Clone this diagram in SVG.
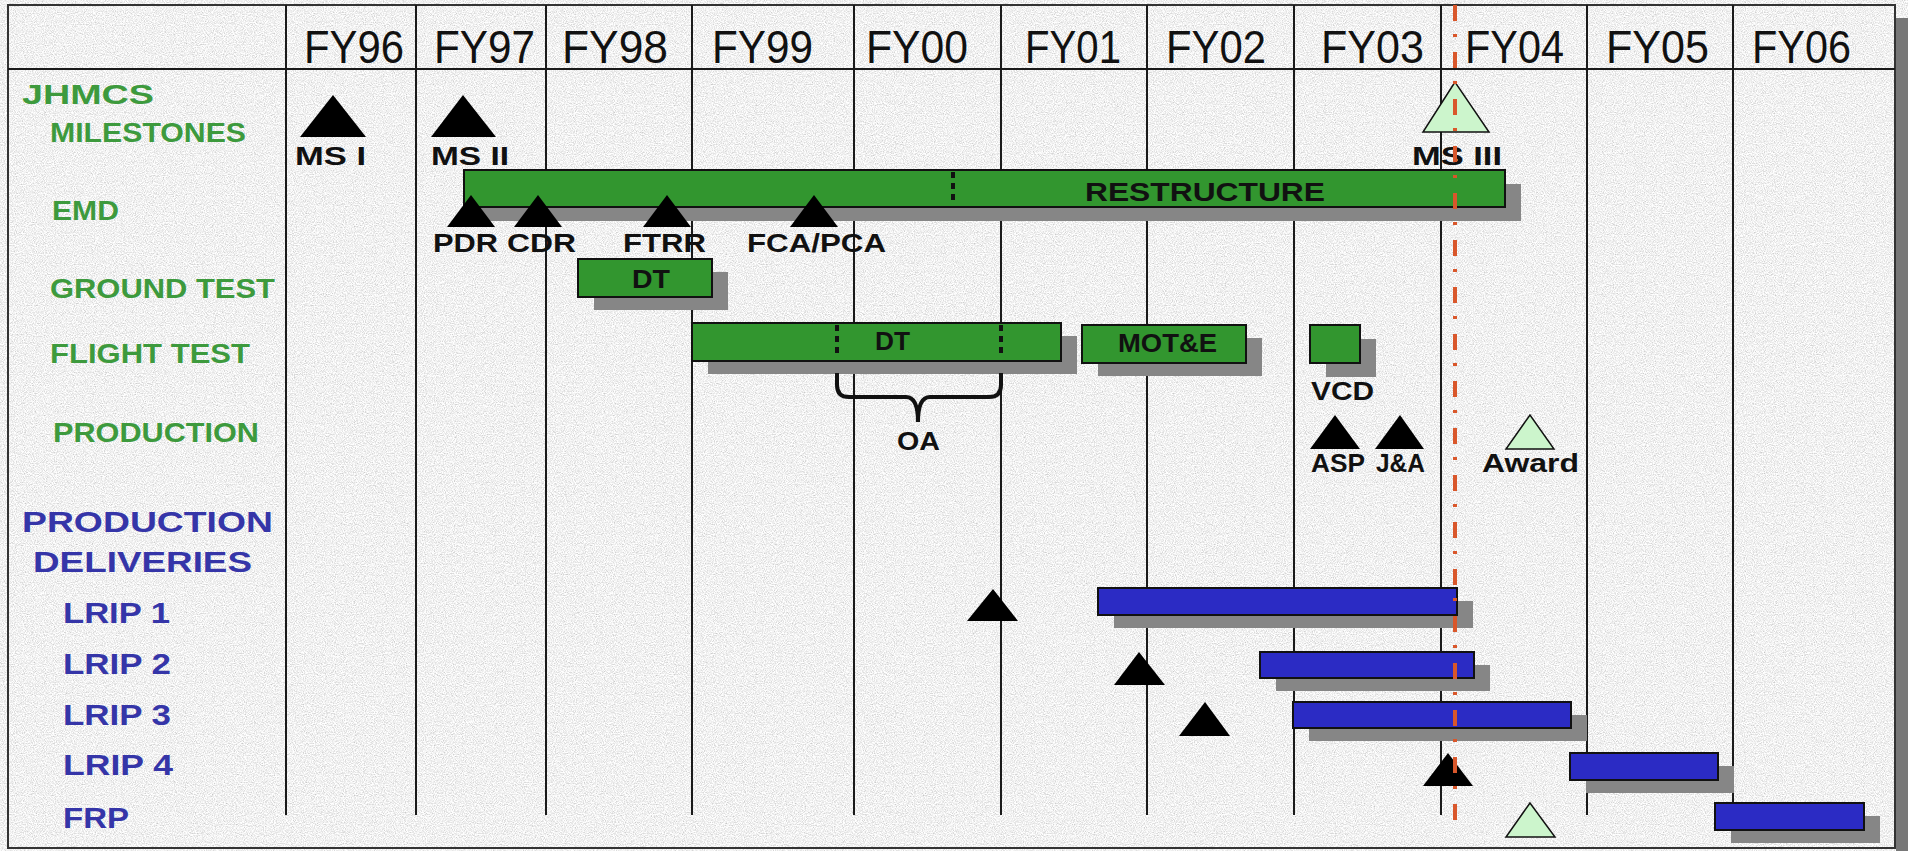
<svg xmlns="http://www.w3.org/2000/svg" width="1908" height="851" viewBox="0 0 1908 851">
<defs>
<filter id="noise" x="0" y="0" width="100%" height="100%">
<feTurbulence type="fractalNoise" baseFrequency="0.9" numOctaves="2" seed="7" result="t"/>
<feColorMatrix in="t" type="matrix" values="0.8 0 0 0 0.48  0.8 0 0 0 0.48  0.8 0 0 0 0.48  0 0 0 0 1"/>
</filter>
<style>
.hdr{font-family:"Liberation Sans",Arial,sans-serif;font-size:47px;fill:#111;}
.gl{font-family:"Liberation Sans",Arial,sans-serif;font-weight:bold;font-size:28px;fill:#3d9a3d;}
.bl{font-family:"Liberation Sans",Arial,sans-serif;font-weight:bold;font-size:30px;fill:#3535a8;}
.lab{font-family:"Liberation Sans",Arial,sans-serif;font-weight:bold;font-size:25px;fill:#111;}
.grid{stroke:#1a1a1a;stroke-width:2;fill:none;}
.gbar{fill:#32962f;stroke:#111;stroke-width:2;}
.bbar{fill:#2b2bc4;stroke:#111;stroke-width:2;}
.shd{fill:#868686;}
.tri{fill:#000;}
.ltri{fill:#ccf5cc;stroke:#111;stroke-width:1.5;}
.dots{stroke:#111;stroke-width:4;stroke-dasharray:6 5;fill:none;}
</style>
</defs>
<rect x="0" y="0" width="1908" height="851" fill="#e0e0e0"/>
<rect x="0" y="0" width="1908" height="851" filter="url(#noise)"/>
<rect x="1896" y="18" width="12" height="833" fill="#777"/>
<rect x="8" y="5" width="1887" height="843" fill="none" stroke="#333" stroke-width="2"/>

<g id="grid" class="grid">
<line x1="8" y1="69" x2="1895" y2="69"/>
<line x1="286" y1="5" x2="286" y2="815"/>
<line x1="416" y1="5" x2="416" y2="815"/>
<line x1="546" y1="5" x2="546" y2="815"/>
<line x1="692" y1="5" x2="692" y2="815"/>
<line x1="854" y1="5" x2="854" y2="815"/>
<line x1="1001" y1="5" x2="1001" y2="815"/>
<line x1="1147" y1="5" x2="1147" y2="815"/>
<line x1="1294" y1="5" x2="1294" y2="815"/>
<line x1="1441" y1="5" x2="1441" y2="815"/>
<line x1="1587" y1="5" x2="1587" y2="815"/>
<line x1="1733" y1="5" x2="1733" y2="815"/>
</g>

<g id="header">
<text class="hdr" x="304" y="63" textLength="100" lengthAdjust="spacingAndGlyphs">FY96</text>
<text class="hdr" x="434" y="63" textLength="101" lengthAdjust="spacingAndGlyphs">FY97</text>
<text class="hdr" x="562" y="63" textLength="106" lengthAdjust="spacingAndGlyphs">FY98</text>
<text class="hdr" x="712" y="63" textLength="101" lengthAdjust="spacingAndGlyphs">FY99</text>
<text class="hdr" x="866" y="63" textLength="102" lengthAdjust="spacingAndGlyphs">FY00</text>
<text class="hdr" x="1025" y="63" textLength="96" lengthAdjust="spacingAndGlyphs">FY01</text>
<text class="hdr" x="1166" y="63" textLength="100" lengthAdjust="spacingAndGlyphs">FY02</text>
<text class="hdr" x="1321" y="63" textLength="103" lengthAdjust="spacingAndGlyphs">FY03</text>
<text class="hdr" x="1465" y="63" textLength="99" lengthAdjust="spacingAndGlyphs">FY04</text>
<text class="hdr" x="1606" y="63" textLength="103" lengthAdjust="spacingAndGlyphs">FY05</text>
<text class="hdr" x="1752" y="63" textLength="99" lengthAdjust="spacingAndGlyphs">FY06</text>
</g>

<g id="row-labels">
<text class="gl" x="22" y="104" font-size="30" textLength="132" lengthAdjust="spacingAndGlyphs">JHMCS</text>
<text class="gl" x="50" y="142" textLength="196" lengthAdjust="spacingAndGlyphs">MILESTONES</text>
<text class="gl" x="52" y="220" textLength="67" lengthAdjust="spacingAndGlyphs">EMD</text>
<text class="gl" x="50" y="298" textLength="225" lengthAdjust="spacingAndGlyphs">GROUND TEST</text>
<text class="gl" x="50" y="363" textLength="200" lengthAdjust="spacingAndGlyphs">FLIGHT TEST</text>
<text class="gl" x="53" y="442" textLength="206" lengthAdjust="spacingAndGlyphs">PRODUCTION</text>
<text class="bl" x="22" y="532" font-size="37" textLength="251" lengthAdjust="spacingAndGlyphs">PRODUCTION</text>
<text class="bl" x="33" y="572" font-size="34" textLength="219" lengthAdjust="spacingAndGlyphs">DELIVERIES</text>
<text class="bl" x="63" y="623" textLength="107" lengthAdjust="spacingAndGlyphs">LRIP 1</text>
<text class="bl" x="63" y="674" textLength="108" lengthAdjust="spacingAndGlyphs">LRIP 2</text>
<text class="bl" x="63" y="725" textLength="108" lengthAdjust="spacingAndGlyphs">LRIP 3</text>
<text class="bl" x="63" y="775" textLength="110" lengthAdjust="spacingAndGlyphs">LRIP 4</text>
<text class="bl" x="63" y="828" textLength="66" lengthAdjust="spacingAndGlyphs">FRP</text>
</g>

<g id="milestones">
<g id="ms1"><polygon class="tri" points="333,95 300,137 366,137"/><text class="lab" x="295" y="165" textLength="71" lengthAdjust="spacingAndGlyphs">MS I</text></g>
<g id="ms2"><polygon class="tri" points="463,95 431,137 496,137"/><text class="lab" x="431" y="165" textLength="78" lengthAdjust="spacingAndGlyphs">MS II</text></g>
<g id="ms3"><polygon class="ltri" points="1455,82 1423,132 1489,132"/><text class="lab" x="1412" y="165" textLength="90" lengthAdjust="spacingAndGlyphs">MS III</text></g>
</g>

<g id="emd">
<rect class="shd" x="480" y="184" width="1041" height="37"/>
<rect class="gbar" x="464" y="170" width="1041" height="37"/>
<line class="dots" x1="953" y1="172" x2="953" y2="203"/>
<text class="lab" x="1085" y="201" font-size="29" textLength="240" lengthAdjust="spacingAndGlyphs">RESTRUCTURE</text>
<g id="pdr"><polygon class="tri" points="471,195 447,227 495,227"/><text class="lab" x="433" y="252" textLength="65" lengthAdjust="spacingAndGlyphs">PDR</text></g>
<g id="cdr"><polygon class="tri" points="538,195 514,227 562,227"/><text class="lab" x="507" y="252" textLength="69" lengthAdjust="spacingAndGlyphs">CDR</text></g>
<g id="ftrr"><polygon class="tri" points="667,195 643,227 691,227"/><text class="lab" x="623" y="252" textLength="83" lengthAdjust="spacingAndGlyphs">FTRR</text></g>
<g id="fca"><polygon class="tri" points="814,195 790,227 838,227"/><text class="lab" x="747" y="252" textLength="139" lengthAdjust="spacingAndGlyphs">FCA/PCA</text></g>
</g>

<g id="ground-dt">
<rect class="shd" x="594" y="272" width="134" height="38"/>
<rect class="gbar" x="578" y="259" width="134" height="38"/>
<text class="lab" x="632" y="288" textLength="38" lengthAdjust="spacingAndGlyphs">DT</text>
</g>

<g id="flight-dt">
<rect class="shd" x="708" y="336" width="369" height="38"/>
<rect class="gbar" x="692" y="323" width="369" height="38"/>
<line class="dots" x1="837" y1="325" x2="837" y2="356"/>
<line class="dots" x1="1001" y1="325" x2="1001" y2="356"/>
<text class="lab" x="875" y="350" textLength="35" lengthAdjust="spacingAndGlyphs">DT</text>
</g>

<g id="mote">
<rect class="shd" x="1098" y="338" width="164" height="38"/>
<rect class="gbar" x="1082" y="325" width="164" height="38"/>
<text class="lab" x="1118" y="352" textLength="99" lengthAdjust="spacingAndGlyphs">MOT&amp;E</text>
</g>

<g id="vcd">
<rect class="shd" x="1326" y="339" width="50" height="38"/>
<rect class="gbar" x="1310" y="325" width="50" height="38"/>
<text class="lab" x="1311" y="400" textLength="63" lengthAdjust="spacingAndGlyphs">VCD</text>
</g>

<g id="production">
<g id="asp"><polygon class="tri" points="1335,415 1310,449 1360,449"/><text class="lab" x="1311" y="472" textLength="54" lengthAdjust="spacingAndGlyphs">ASP</text></g>
<g id="ja"><polygon class="tri" points="1400,415 1375,449 1424,449"/><text class="lab" x="1376" y="472" textLength="49" lengthAdjust="spacingAndGlyphs">J&amp;A</text></g>
<g id="award"><polygon class="ltri" points="1530,415 1506,449 1554,449"/><text class="lab" x="1482" y="472" textLength="97" lengthAdjust="spacingAndGlyphs">Award</text></g>
</g>

<g id="deliveries">
<g id="lrip1">
<rect class="shd" x="1114" y="601" width="359" height="27"/>
<rect class="bbar" x="1098" y="588" width="359" height="27"/>
<polygon class="tri" points="993,589 967,621 1018,621"/>
</g>
<g id="lrip2">
<rect class="shd" x="1276" y="665" width="214" height="26"/>
<rect class="bbar" x="1260" y="652" width="214" height="26"/>
<polygon class="tri" points="1139,652 1114,685 1165,685"/>
</g>
<g id="lrip3">
<rect class="shd" x="1309" y="715" width="278" height="26"/>
<rect class="bbar" x="1293" y="702" width="278" height="26"/>
<polygon class="tri" points="1205,702 1179,736 1230,736"/>
</g>
<g id="lrip4">
<rect class="shd" x="1586" y="766" width="148" height="27"/>
<rect class="bbar" x="1570" y="753" width="148" height="27"/>
<polygon class="tri" points="1448,753 1423,786 1473,786"/>
</g>
<g id="frp">
<rect class="shd" x="1731" y="816" width="149" height="27"/>
<rect class="bbar" x="1715" y="803" width="149" height="27"/>
<polygon class="ltri" points="1530,803 1506,837 1555,837"/>
</g>
</g>

<g id="connectors">
<path d="M837,373 L837,385 Q837,397 849,397 L906,397 Q918,397 918,422 Q918,397 930,397 L989,397 Q1001,397 1001,385 L1001,373" fill="none" stroke="#111" stroke-width="4"/>
<text class="lab" x="897" y="450" textLength="43" lengthAdjust="spacingAndGlyphs">OA</text>
<line x1="1455" y1="5" x2="1455" y2="830" stroke="#d9572b" stroke-width="4" stroke-dasharray="16 13 3 15"/>
</g>
</svg>
